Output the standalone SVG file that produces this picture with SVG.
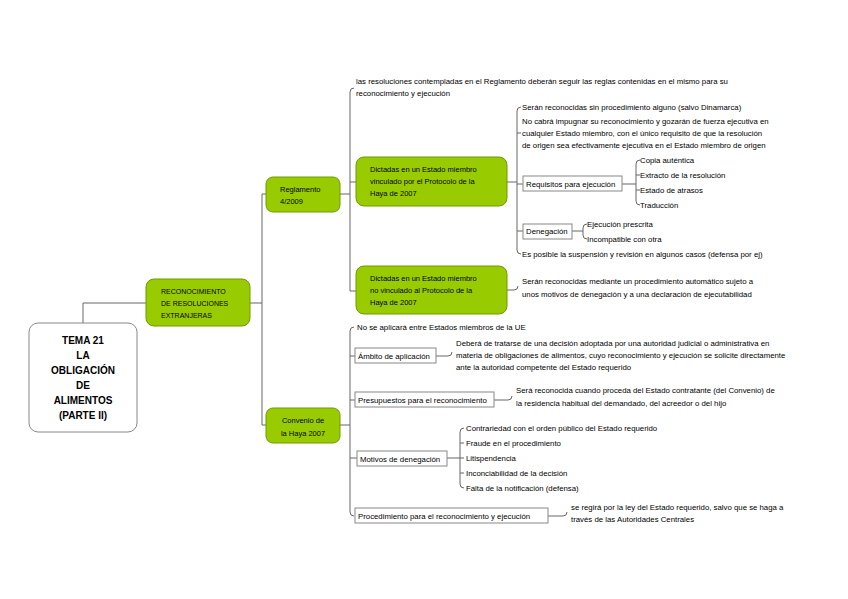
<svg xmlns="http://www.w3.org/2000/svg" width="848" height="599" viewBox="0 0 848 599">
<style>
text{font-family:"Liberation Sans",Arial,sans-serif;font-size:7.8px;fill:#000}
.g{fill:#99cc00;stroke:#6f9a00;stroke-width:1}
.w{fill:#fff;stroke:#888;stroke-width:1}
.root{fill:#fff;stroke:#888;stroke-width:1}
.rt{font-size:10px;font-weight:bold;text-anchor:middle}
.c{fill:none;stroke:#666;stroke-width:1}
.cap{font-size:7px}
.n{font-size:7.5px}
</style>
<rect width="848" height="599" fill="#fff"/>
<g id="connectors">
<path class="c" d="M83,323 V303 H146"/>
<path class="c" d="M250,303 H262 M262,194 V425 M262,194 H266 M262,425 H266"/>
<path class="c" d="M340,194 H350 M350,92 Q350,88 354,88 M350,92 V291 M350,182 H356 M350,291 H356"/>
<path class="c" d="M507,182 H517 M517,111 Q517,107 521,107 M517,111 V250 Q517,254 521,254 M517,133 H521 M517,184 H523 M517,231 H523"/>
<path class="c" d="M622,184 H632 M636,164 Q636,160 640,160 M636,164 V201 Q636,205 640,205 M632,184 H636 M636,175 H640 M636,190 H640"/>
<path class="c" d="M572,231 H580 M583,228 Q583,224 587,224 M583,228 V235 Q583,239 587,239 M580,231 H583"/>
<path class="c" d="M507,290 H514 Q518,290 518,286"/>
<path class="c" d="M340,425 H350 M350,331 Q350,327 354,327 M350,331 V512 Q350,516 354,516 M350,356 H355 M350,400 H355 M350,458 H357"/>
<path class="c" d="M436,356 H448 Q452,356 452,352"/>
<path class="c" d="M494,400 H508 Q512,400 512,396"/>
<path class="c" d="M447,458 H457 M460,432 Q460,428 464,428 M460,432 V484 Q460,488 464,488 M457,458 H464 M460,443 H464 M460,473 H464"/>
<path class="c" d="M548,516 H563 Q567,516 567,512"/>
</g>
<g id="root">
<rect class="root" x="29" y="323" width="108" height="109" rx="9"/>
<text class="rt" x="83" y="344">TEMA 21</text>
<text class="rt" x="83" y="359">LA</text>
<text class="rt" x="83" y="374">OBLIGACIÓN</text>
<text class="rt" x="83" y="389">DE</text>
<text class="rt" x="83" y="404">ALIMENTOS</text>
<text class="rt" x="83" y="419">(PARTE II)</text>
</g>
<g id="reconocimiento">
<rect class="g" x="146" y="279" width="104" height="47" rx="8"/>
<text class="cap" x="161" y="294">RECONOCIMIENTO</text>
<text class="cap" x="161" y="306">DE RESOLUCIONES</text>
<text class="cap" x="161" y="318">EXTRANJERAS</text>
</g>
<g id="reglamento">
<rect class="g" x="266" y="177" width="74" height="35" rx="7"/>
<text class="n" x="280" y="192">Reglamento</text>
<text class="n" x="280" y="204">4/2009</text>
</g>
<g id="convenio">
<rect class="g" x="266" y="408" width="74" height="35" rx="7"/>
<text class="n" x="303" y="423" text-anchor="middle">Convenio de</text>
<text class="n" x="303" y="436" text-anchor="middle">la Haya 2007</text>
</g>
<g id="reg-texto">
<text x="356" y="84">las resoluciones contempladas en el Reglamento deberán seguir las reglas contenidas en el mismo para su</text>
<text x="356" y="96">reconocimiento y ejecución</text>
</g>
<g id="vinculado">
<rect class="g" x="356" y="157" width="151" height="49" rx="8"/>
<text class="n" x="370" y="172">Dictadas en un Estado miembro</text>
<text class="n" x="370" y="184">vinculado por el Protocolo de la</text>
<text class="n" x="370" y="196">Haya de 2007</text>
</g>
<g id="no-vinculado">
<rect class="g" x="356" y="266" width="151" height="48" rx="8"/>
<text class="n" x="370" y="281">Dictadas en un Estado miembro</text>
<text class="n" x="370" y="293">no vinculado al Protocolo de la</text>
<text class="n" x="370" y="305">Haya de 2007</text>
</g>
<g id="sin-procedimiento">
<text x="522" y="110">Serán reconocidas sin procedimiento alguno (salvo Dinamarca)</text>
</g>
<g id="no-cabra">
<text x="522" y="124">No cabrá impugnar su reconocimiento y gozarán de fuerza ejecutiva en</text>
<text x="522" y="136">cualquier Estado miembro, con el único requisito de que la resolución</text>
<text x="522" y="148">de origen sea efectivamente ejecutiva en el Estado miembro de origen</text>
</g>
<g id="requisitos">
<rect class="w" x="523" y="176" width="99" height="15"/>
<text x="526" y="187">Requisitos para ejecución</text>
</g>
<g id="copia"><text x="640" y="163">Copia auténtica</text></g>
<g id="extracto"><text x="640" y="178">Extracto de la resolución</text></g>
<g id="atrasos"><text x="640" y="193">Estado de atrasos</text></g>
<g id="traduccion"><text x="640" y="208">Traducción</text></g>
<g id="denegacion">
<rect class="w" x="523" y="224" width="49" height="15"/>
<text x="526" y="234">Denegación</text>
</g>
<g id="prescrita"><text x="587" y="227">Ejecución prescrita</text></g>
<g id="incompatible"><text x="587" y="242">Incompatible con otra</text></g>
<g id="suspension"><text x="522" y="257">Es posible la suspensión y revisión en algunos casos (defensa por ej)</text></g>
<g id="automatico">
<text x="522" y="284">Serán reconocidas mediante un procedimiento automático sujeto a</text>
<text x="522" y="297">unos motivos de denegación y a una declaración de ejecutabilidad</text>
</g>
<g id="no-ue"><text x="357" y="330">No se aplicará entre Estados miembros de la UE</text></g>
<g id="ambito">
<rect class="w" x="355" y="348" width="81" height="15"/>
<text x="358" y="359">Ámbito de aplicación</text>
</g>
<g id="ambito-texto">
<text x="456" y="346">Deberá de tratarse de una decisión adoptada por una autoridad judicial o administrativa en</text>
<text x="456" y="358">materia de obligaciones de alimentos, cuyo reconocimiento y ejecución se solicite directamente</text>
<text x="456" y="370">ante la autoridad competente del Estado requerido</text>
</g>
<g id="presupuestos">
<rect class="w" x="355" y="392" width="139" height="15"/>
<text x="358" y="403">Presupuestos para el reconocimiento</text>
</g>
<g id="presupuestos-texto">
<text x="516" y="393">Será reconocida cuando proceda del Estado contratante (del Convenio) de</text>
<text x="516" y="406">la residencia habitual del demandado, del acreedor o del hijo</text>
</g>
<g id="motivos">
<rect class="w" x="357" y="451" width="90" height="15"/>
<text x="360" y="462">Motivos de denegación</text>
</g>
<g id="contrariedad"><text x="466" y="431">Contrariedad con el orden público del Estado requerido</text></g>
<g id="fraude"><text x="466" y="446">Fraude en el procedimiento</text></g>
<g id="litispendencia"><text x="466" y="461">Litispendencia</text></g>
<g id="inconciabilidad"><text x="466" y="476">Inconciabilidad de la decisión</text></g>
<g id="falta"><text x="466" y="491">Falta de la notificación (defensa)</text></g>
<g id="procedimiento">
<rect class="w" x="355" y="508" width="193" height="15"/>
<text x="358" y="519">Procedimiento para el reconocimiento y ejecución</text>
</g>
<g id="procedimiento-texto">
<text x="571" y="510">se regirá por la ley del Estado requerido, salvo que se haga a</text>
<text x="571" y="522">través de las Autoridades Centrales</text>
</g>
</svg>
